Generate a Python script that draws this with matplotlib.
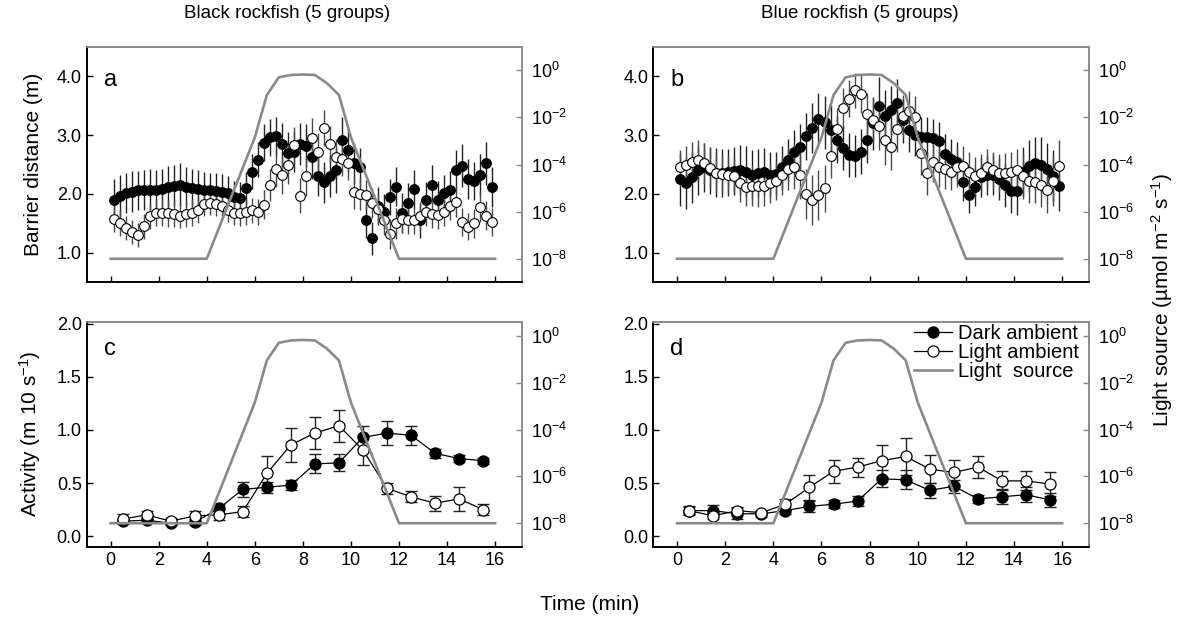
import numpy as np
import matplotlib
matplotlib.use('Agg')
import matplotlib.pyplot as plt
from matplotlib.ticker import FixedLocator, LogFormatterSciNotation, NullLocator

plt.rcParams['font.family'] = ['Liberation Sans', 'DejaVu Sans']
plt.rcParams['mathtext.default'] = 'regular'

# 15 s bins for barrier distance, 1 min bins for activity
t_fine = np.arange(64) * 0.25 + 0.125
t_min = np.arange(16) + 0.5

dark_a = [1.90, 1.97, 2.01, 2.04, 2.06, 2.07, 2.07, 2.07, 2.09, 2.11, 2.14, 2.16, 2.12, 2.10, 2.08, 2.07,
          2.06, 2.05, 2.04, 2.02, 1.94, 1.93, 2.10, 2.38, 2.58, 2.87, 2.96, 2.98, 2.85, 2.70, 2.72, 2.85,
          2.82, 2.62, 2.30, 2.20, 2.30, 2.40, 2.92, 2.75, 2.52, 2.45, 1.55, 1.25, 1.80, 1.70, 1.95, 2.12,
          1.68, 1.85, 2.08, 1.55, 1.90, 2.16, 1.90, 2.02, 2.06, 2.40, 2.48, 2.25, 2.22, 2.32, 2.52, 2.12]
dark_a_err = [0.36, 0.35, 0.34, 0.35, 0.33, 0.34, 0.35, 0.33, 0.34, 0.36, 0.35, 0.37, 0.34, 0.33, 0.32, 0.31,
              0.30, 0.31, 0.30, 0.29, 0.28, 0.27, 0.28, 0.30, 0.30, 0.31, 0.32, 0.33, 0.35, 0.36, 0.34, 0.35,
              0.37, 0.36, 0.34, 0.35, 0.36, 0.38, 0.39, 0.36, 0.35, 0.33, 0.30, 0.28, 0.32, 0.30, 0.31, 0.33,
              0.34, 0.33, 0.32, 0.30, 0.31, 0.33, 0.32, 0.31, 0.33, 0.35, 0.36, 0.34, 0.33, 0.35, 0.36, 0.34]
light_a = [1.58, 1.50, 1.42, 1.35, 1.30, 1.45, 1.62, 1.68, 1.68, 1.67, 1.66, 1.63, 1.66, 1.68, 1.72, 1.83,
           1.85, 1.83, 1.79, 1.73, 1.68, 1.68, 1.70, 1.72, 1.70, 1.82, 2.15, 2.42, 2.32, 2.50, 2.83, 1.97,
           2.30, 2.95, 2.72, 3.12, 2.85, 2.62, 2.60, 2.52, 2.03, 2.00, 1.98, 1.85, 1.75, 1.55, 1.32, 1.50,
           1.58, 1.56, 1.55, 1.62, 1.70, 1.66, 1.64, 1.70, 1.80, 1.87, 1.53, 1.44, 1.50, 1.78, 1.63, 1.52]
light_a_err = [0.22, 0.22, 0.21, 0.20, 0.20, 0.21, 0.22, 0.23, 0.22, 0.23, 0.22, 0.21, 0.22, 0.23, 0.22, 0.21,
               0.20, 0.21, 0.21, 0.20, 0.21, 0.22, 0.22, 0.21, 0.22, 0.24, 0.27, 0.30, 0.32, 0.33, 0.31, 0.30,
               0.33, 0.34, 0.32, 0.30, 0.31, 0.32, 0.30, 0.29, 0.28, 0.27, 0.26, 0.25, 0.25, 0.24, 0.25, 0.26,
               0.25, 0.24, 0.23, 0.24, 0.25, 0.24, 0.23, 0.24, 0.25, 0.26, 0.24, 0.23, 0.24, 0.26, 0.25, 0.24]

dark_b = [2.25, 2.18, 2.28, 2.40, 2.45, 2.40, 2.36, 2.35, 2.37, 2.39, 2.41, 2.38, 2.33, 2.35, 2.38, 2.33,
          2.34, 2.45, 2.58, 2.72, 2.80, 2.98, 3.12, 3.28, 3.22, 3.08, 2.92, 2.78, 2.66, 2.64, 2.72, 2.92,
          3.20, 3.50, 3.32, 3.42, 3.55, 3.25, 3.08, 3.00, 2.96, 2.97, 2.95, 2.90, 2.68, 2.60, 2.55, 2.20,
          1.98, 2.12, 2.28, 2.32, 2.33, 2.25, 2.15, 2.05, 2.05, 2.38, 2.48, 2.52, 2.50, 2.42, 2.30, 2.14]
dark_b_err = [0.45, 0.44, 0.43, 0.42, 0.41, 0.40, 0.42, 0.41, 0.40, 0.41, 0.42, 0.43, 0.42, 0.41, 0.40, 0.39,
              0.38, 0.37, 0.36, 0.37, 0.38, 0.40, 0.42, 0.44, 0.45, 0.43, 0.40, 0.38, 0.37, 0.36, 0.38, 0.40,
              0.45, 0.48, 0.44, 0.42, 0.40, 0.38, 0.36, 0.35, 0.34, 0.33, 0.32, 0.32, 0.33, 0.34, 0.33, 0.32,
              0.31, 0.32, 0.33, 0.34, 0.35, 0.36, 0.37, 0.38, 0.40, 0.42, 0.44, 0.45, 0.46, 0.45, 0.44, 0.43]
light_b = [2.45, 2.50, 2.55, 2.57, 2.52, 2.44, 2.36, 2.34, 2.33, 2.30, 2.18, 2.12, 2.13, 2.13, 2.14, 2.18,
           2.22, 2.32, 2.42, 2.46, 2.32, 2.00, 1.90, 1.98, 2.10, 2.65, 3.10, 3.46, 3.62, 3.76, 3.70, 3.36,
           3.25, 3.15, 2.92, 2.80, 3.10, 3.32, 3.40, 3.30, 2.70, 2.35, 2.55, 2.45, 2.42, 2.38, 2.45, 2.48,
           2.38, 2.30, 2.36, 2.46, 2.40, 2.35, 2.36, 2.38, 2.41, 2.30, 2.22, 2.20, 2.16, 2.07, 2.22, 2.48]
light_b_err = [0.30, 0.32, 0.33, 0.34, 0.35, 0.34, 0.33, 0.32, 0.31, 0.30, 0.32, 0.33, 0.34, 0.35, 0.34, 0.33,
               0.32, 0.34, 0.36, 0.38, 0.40, 0.42, 0.43, 0.42, 0.40, 0.38, 0.36, 0.34, 0.32, 0.30, 0.32, 0.35,
               0.38, 0.40, 0.42, 0.40, 0.38, 0.36, 0.34, 0.36, 0.38, 0.36, 0.35, 0.34, 0.33, 0.32, 0.33, 0.34,
               0.33, 0.32, 0.31, 0.30, 0.31, 0.32, 0.33, 0.34, 0.36, 0.38, 0.37, 0.36, 0.38, 0.40, 0.42, 0.44]

dark_c = [0.14, 0.15, 0.12, 0.13, 0.26, 0.44, 0.46, 0.48, 0.68, 0.69, 0.93, 0.97, 0.95, 0.78, 0.73, 0.71]
dark_c_err = [0.02, 0.03, 0.02, 0.03, 0.04, 0.07, 0.05, 0.05, 0.09, 0.08, 0.11, 0.11, 0.09, 0.04, 0.03, 0.03]
light_c = [0.16, 0.20, 0.14, 0.19, 0.20, 0.23, 0.59, 0.86, 0.97, 1.04, 0.81, 0.45, 0.37, 0.31, 0.35, 0.25]
light_c_err = [0.05, 0.04, 0.03, 0.05, 0.05, 0.05, 0.16, 0.16, 0.15, 0.15, 0.14, 0.05, 0.05, 0.07, 0.11, 0.05]

dark_d = [0.24, 0.24, 0.21, 0.21, 0.24, 0.28, 0.30, 0.33, 0.54, 0.53, 0.43, 0.47, 0.35, 0.37, 0.39, 0.34]
dark_d_err = [0.04, 0.05, 0.05, 0.03, 0.03, 0.05, 0.04, 0.05, 0.08, 0.09, 0.07, 0.06, 0.04, 0.07, 0.07, 0.07]
light_d = [0.24, 0.19, 0.24, 0.22, 0.30, 0.46, 0.61, 0.65, 0.71, 0.75, 0.63, 0.60, 0.65, 0.52, 0.52, 0.49]
light_d_err = [0.03, 0.03, 0.03, 0.02, 0.05, 0.12, 0.11, 0.09, 0.15, 0.17, 0.13, 0.12, 0.10, 0.09, 0.09, 0.11]

# light source intensity (log10 umol m-2 s-1)
t_light = [0, 4, 6, 6.5, 7, 7.5, 8, 8.5, 9, 9.5, 10, 12, 16]
light_log = [-8, -8, -2.85, -1.05, -0.3, -0.2, -0.18, -0.2, -0.55, -1.05, -2.85, -8, -8]
light_src = [10.0 ** v for v in light_log]

fig = plt.figure(figsize=(11.8, 6.25), dpi=100)
pos = {'a': [0.0734, 0.5483, 0.3686, 0.377], 'b': [0.5534, 0.5483, 0.3692, 0.377],
       'c': [0.0734, 0.1253, 0.3686, 0.360], 'd': [0.5534, 0.1253, 0.3692, 0.360]}

GRAY = '#8a8a8a'


def setup(key, top):
    ax = fig.add_axes(pos[key])
    ax2 = ax.twinx()
    ax.set_xlim(-1, 17.1)
    ax.set_xticks(range(0, 17, 2))
    for a in (ax, ax2):
        for s in ('left', 'bottom'):
            a.spines[s].set_color('black')
            a.spines[s].set_linewidth(1.2)
        for s in ('top', 'right'):
            a.spines[s].set_color(GRAY)
            a.spines[s].set_linewidth(1.2)
    ax.tick_params(axis='both', direction='in', length=4, width=1, labelsize=13)
    ax2.set_yscale('log')
    ax2.yaxis.set_major_locator(FixedLocator([1e-8, 1e-6, 1e-4, 1e-2, 1]))
    ax2.yaxis.set_major_formatter(LogFormatterSciNotation())
    ax2.yaxis.set_minor_locator(NullLocator())
    ax2.tick_params(axis='y', direction='in', length=4, width=1, color=GRAY, labelsize=13, pad=7)
    if top:
        ax.set_ylim(0.5, 4.5)
        ax.set_yticks([1.0, 2.0, 3.0, 4.0])
        ax.set_yticklabels(['1.0', '2.0', '3.0', '4.0'])
        ax.tick_params(axis='x', labelbottom=False)
        ax2.set_ylim(1e-9, 1e1)
    else:
        ax.set_ylim(-0.1, 2.02)
        ax.set_yticks([0.0, 0.5, 1.0, 1.5, 2.0])
        ax.set_yticklabels(['0.0', '0.5', '1.0', '1.5', '2.0'])
        ax2.set_ylim(1e-9, 10 ** 0.6)
    ln, = ax2.plot(t_light, light_src, color=GRAY, lw=1.9, solid_joinstyle='round')
    return ax, ax2, ln


def top_panel(key, dark, dark_err, light, light_err, letter):
    ax, ax2, ln = setup(key, True)
    ax.errorbar(t_fine, dark, yerr=dark_err, fmt='none', ecolor='#222222', elinewidth=1.0)
    ax.errorbar(t_fine, light, yerr=light_err, fmt='none', ecolor='#4a4a4a', elinewidth=1.0)
    ax.plot(t_fine, dark, 'o', ms=7, mfc='black', mec='black', mew=0.8)
    ax.plot(t_fine, light, 'o', ms=7, mfc='white', mec='black', mew=0.8)
    ax.text(0.04, 0.833, letter, transform=ax.transAxes, fontsize=17, va='baseline', ha='left')
    return ax, ax2, ln


def bottom_panel(key, dark, dark_err, light, light_err, letter):
    ax, ax2, ln = setup(key, False)
    ax.errorbar(t_min, dark, yerr=dark_err, fmt='none', ecolor='#222222', elinewidth=1.0, capsize=4, capthick=1)
    ax.errorbar(t_min, light, yerr=light_err, fmt='none', ecolor='#222222', elinewidth=1.0, capsize=4, capthick=1)
    hd, = ax.plot(t_min, dark, '-o', color='black', lw=0.9, ms=8, mfc='black', mec='black', mew=0.9)
    hl, = ax.plot(t_min, light, '-o', color='black', lw=0.9, ms=8, mfc='white', mec='black', mew=0.9)
    ax.text(0.04, 0.852, letter, transform=ax.transAxes, fontsize=17, va='baseline', ha='left')
    return ax, ax2, ln, hd, hl


ax_a, _, _ = top_panel('a', dark_a, dark_a_err, light_a, light_a_err, 'a')
ax_b, _, _ = top_panel('b', dark_b, dark_b_err, light_b, light_b_err, 'b')
ax_c, _, _, _, _ = bottom_panel('c', dark_c, dark_c_err, light_c, light_c_err, 'c')
ax_d, ax_d2, ln_d, hd, hl = bottom_panel('d', dark_d, dark_d_err, light_d, light_d_err, 'd')

ax_d2.legend([hd, hl, ln_d], ['Dark ambient', 'Light ambient', 'Light  source'], loc='upper right',
             bbox_to_anchor=(1.0, 1.035), frameon=False, fontsize=14.5, handlelength=1.85,
             handletextpad=0.3, labelspacing=0.0, borderaxespad=0.1)

ax_a.set_ylabel('Barrier distance (m)', fontsize=15, labelpad=10)
ax_c.set_ylabel('Activity (m 10 s$^{-1}$)', fontsize=15, labelpad=10)
fig.text(0.243, 0.978, 'Black rockfish (5 groups)', ha='center', va='center', fontsize=13.5)
fig.text(0.729, 0.978, 'Blue rockfish (5 groups)', ha='center', va='center', fontsize=13.5)
fig.text(0.5, 0.032, 'Time (min)', ha='center', va='center', fontsize=15)
fig.text(0.985, 0.52, 'Light source (\u00b5mol m$^{-2}$ s$^{-1}$)', ha='center', va='center',
         rotation=90, fontsize=15)

fig.savefig('out.png', dpi=100)
